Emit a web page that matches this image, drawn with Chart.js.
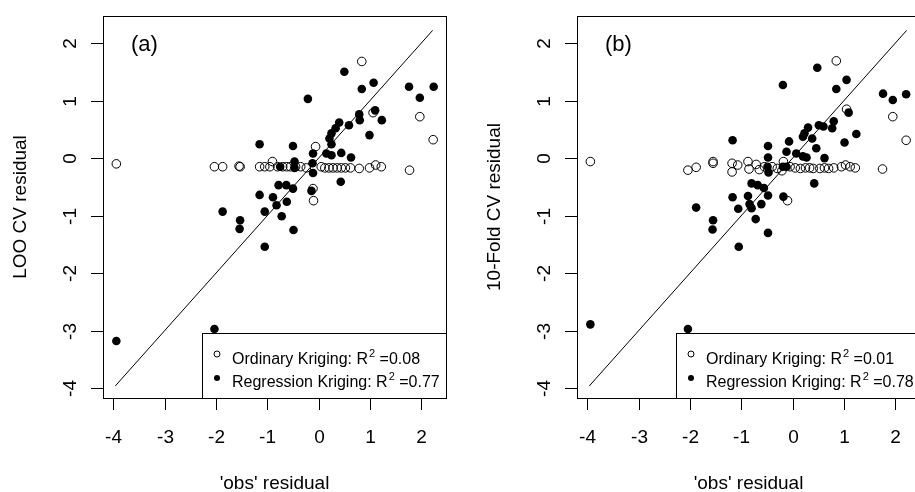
<!DOCTYPE html>
<html>
<head>
<meta charset="utf-8">
<script src="https://cdn.jsdelivr.net/npm/chart.js@4.4.0/dist/chart.umd.min.js"></script>
<style>
  html, body { margin: 0; padding: 0; background: #fff; overflow: hidden; }
  #wrap { width: 948px; height: 492px; display: flex; }
  #wrap canvas { display: block; }
</style>
</head>
<body>
<div id="wrap">
  <canvas id="chartA" width="474" height="492"></canvas>
  <canvas id="chartB" width="474" height="492"></canvas>
</div>
<script>
// tick values for both axes
var xTicks = [-4, -3, -2, -1, 0, 1, 2];
var yTicks = [-4, -3, -2, -1, 0, 1, 2];

// 1:1 line end points
var lineEnds = [-3.96, 2.22];

// panel (a) - LOO CV
var okA = [
  [-3.94,-0.10],[-2.03,-0.15],[-1.87,-0.15],[-1.53,-0.15],[-1.55,-0.14],[-1.15,-0.15],[-1.05,-0.15],
  [-0.95,-0.15],[-0.90,-0.06],[-0.80,-0.15],[-0.70,-0.15],[-0.62,-0.15],[-0.55,-0.15],[-0.45,-0.15],
  [-0.35,-0.15],[-0.24,-0.17],[-0.06,0.20],[-0.11,-0.53],[-0.10,-0.74],[0.05,-0.15],[0.12,-0.17],
  [0.20,-0.17],[0.28,-0.17],[0.36,-0.17],[0.44,-0.17],[0.52,-0.17],[0.62,-0.17],[0.79,-0.18],
  [0.99,-0.17],[1.11,-0.12],[1.22,-0.15],[1.77,-0.21],[1.06,0.79],[0.84,1.68],[1.97,0.72],[2.23,0.32]
];
var rkA = [
  [-3.94,-3.18],[-2.03,-2.97],[-1.87,-0.93],[-1.53,-1.08],[-1.54,-1.23],[-1.05,-1.54],[-1.15,0.24],
  [-1.15,-0.64],[-1.05,-0.93],[-0.89,-0.68],[-0.82,-0.82],[-0.78,-0.47],[-0.63,-0.47],[-0.50,-0.53],
  [-0.62,-0.76],[-0.72,-1.01],[-0.49,-1.25],[-0.50,0.21],[-0.47,-0.06],[-0.47,-0.17],[-0.21,1.03],
  [-0.14,-0.57],[-0.11,0.08],[-0.12,-0.09],[-0.11,-0.26],[-0.75,-0.15],[0.15,0.08],[0.25,0.05],
  [0.44,0.09],[0.63,0.01],[0.25,0.24],[0.21,0.34],[0.25,0.43],[0.33,0.52],[0.40,0.62],[0.59,0.57],
  [0.79,0.76],[0.80,0.66],[0.99,0.40],[1.10,0.83],[1.23,0.66],[0.84,1.20],[1.07,1.31],[0.50,1.50],
  [1.76,1.24],[1.97,1.05],[2.24,1.24],[0.43,-0.41]
];

// panel (b) - 10-fold CV
var okB = [
  [-3.94,-0.06],[-2.04,-0.21],[-1.88,-0.16],[-1.55,-0.06],[-1.55,-0.09],[-1.18,-0.09],[-1.18,-0.24],
  [-1.07,-0.12],[-0.87,-0.06],[-0.85,-0.19],[-0.71,-0.11],[-0.65,-0.20],[-0.55,-0.15],[-0.40,-0.15],
  [-0.30,-0.18],[-0.18,-0.06],[-0.21,-0.22],[-0.10,-0.74],[-0.05,-0.15],[0.05,-0.17],[0.15,-0.18],
  [0.25,-0.17],[0.33,-0.17],[0.40,-0.18],[0.53,-0.18],[0.62,-0.17],[0.70,-0.18],[0.80,-0.17],
  [0.95,-0.15],[1.03,-0.12],[1.12,-0.15],[1.22,-0.17],[1.75,-0.19],[1.05,0.85],[0.85,1.69],
  [1.95,0.72],[2.21,0.31]
];
var rkB = [
  [-3.94,-2.89],[-2.04,-2.97],[-1.88,-0.86],[-1.55,-1.08],[-1.56,-1.24],[-1.05,-1.54],[-1.17,0.31],
  [-1.17,-0.68],[-1.06,-0.88],[-0.87,-0.66],[-0.84,-0.80],[-0.80,-0.87],[-0.72,-1.06],[-0.61,-0.80],
  [-0.48,-1.30],[-0.48,-0.65],[-0.18,-0.67],[-0.80,-0.44],[-0.68,-0.47],[-0.56,-0.52],[-0.48,0.21],
  [-0.48,0.01],[-0.49,-0.15],[-0.47,-0.25],[-0.19,1.27],[-0.19,-0.15],[-0.12,-0.15],[-0.12,0.11],
  [-0.07,0.29],[0.07,0.08],[0.20,0.03],[0.27,0.01],[0.42,-0.44],[0.46,0.17],[0.20,0.37],[0.23,0.43],
  [0.30,0.53],[0.38,0.34],[0.51,0.57],[0.60,0.55],[0.62,0.00],[0.80,0.64],[0.77,0.52],[1.01,0.27],
  [1.24,0.42],[1.09,0.79],[0.85,1.20],[1.05,1.36],[0.48,1.57],[1.76,1.12],[1.95,1.01],[2.21,1.11]
];

var FONT = '"Liberation Sans", Arial, sans-serif';

function toPts(arr) {
  return arr.map(function(p) { return { x: p[0], y: p[1] }; });
}

// draws the R-style box, axes, labels and legend
var rStyle = {
  id: 'rStyle',
  afterDraw: function(chart, args, opts) {
    var ctx = chart.ctx;
    var a = chart.chartArea;
    var xs = chart.scales.x, ys = chart.scales.y;
    ctx.save();
    ctx.strokeStyle = '#000';
    ctx.fillStyle = '#000';
    ctx.lineWidth = 1;
    ctx.strokeRect(Math.round(a.left) + 0.5, Math.round(a.top) + 0.5, Math.round(a.right - a.left), Math.round(a.bottom - a.top));

    // x ticks
    ctx.font = '19px ' + FONT;
    ctx.textAlign = 'center';
    ctx.textBaseline = 'alphabetic';
    xTicks.forEach(function(v) {
      var px = Math.round(xs.getPixelForValue(v)) + 0.5;
      ctx.beginPath();
      ctx.moveTo(px, a.bottom);
      ctx.lineTo(px, a.bottom + 12);
      ctx.stroke();
      ctx.fillText(String(v), px, a.bottom + 45);
    });
    // y ticks (labels parallel to axis)
    yTicks.forEach(function(v) {
      var py = Math.round(ys.getPixelForValue(v)) + 0.5;
      ctx.beginPath();
      ctx.moveTo(a.left - 12, py);
      ctx.lineTo(a.left, py);
      ctx.stroke();
      ctx.save();
      ctx.translate(a.left - 27, py);
      ctx.rotate(-Math.PI / 2);
      ctx.fillText(String(v), 0, 0);
      ctx.restore();
    });

    // axis titles
    ctx.fillText(opts.xTitle, (a.left + a.right) / 2, a.bottom + 91);
    ctx.save();
    ctx.translate(26, (a.top + a.bottom) / 2);
    ctx.rotate(-Math.PI / 2);
    ctx.fillText(opts.yTitle, 0, 0);
    ctx.restore();

    // panel label
    ctx.font = '22px ' + FONT;
    ctx.textAlign = 'left';
    ctx.fillText(opts.panel, 131, 51);

    // legend
    var lx = 202, ly = 333;
    ctx.fillStyle = '#fff';
    ctx.fillRect(lx + 0.5, ly + 0.5, a.right - lx, a.bottom - ly);
    ctx.strokeStyle = '#000';
    ctx.strokeRect(lx + 0.5, ly + 0.5, Math.round(a.right - lx), Math.round(a.bottom - ly));
    ctx.fillStyle = '#000';
    var rows = [
      { name: 'Ordinary Kriging: R', r2: opts.okR2, open: true, y: 364, sy: 354 },
      { name: 'Regression Kriging: R', r2: opts.rkR2, open: false, y: 387, sy: 378 }
    ];
    rows.forEach(function(r) {
      ctx.beginPath();
      ctx.arc(217, r.sy, 3, 0, Math.PI * 2);
      if (r.open) { ctx.lineWidth = 1; ctx.stroke(); } else { ctx.fill(); }
      ctx.font = '16px ' + FONT;
      var x = 232;
      ctx.fillText(r.name, x, r.y);
      x += ctx.measureText(r.name).width + 1;
      ctx.font = '11px ' + FONT;
      ctx.fillText('2', x, r.y - 7);
      x += ctx.measureText('2').width;
      ctx.font = '16px ' + FONT;
      ctx.fillText(' =' + r2Text(r.r2), x, r.y);
    });
    ctx.restore();
  }
};

function r2Text(v) { return v.toFixed(2); }

function makeChart(id, ok, rk, opts) {
  return new Chart(document.getElementById(id), {
    type: 'scatter',
    data: {
      datasets: [
        {
          label: 'Regression Kriging',
          data: toPts(rk),
          order: 1,
          pointStyle: 'circle',
          pointRadius: 4.3,
          backgroundColor: '#000',
          borderColor: '#000',
          borderWidth: 0
        },
        {
          label: 'Ordinary Kriging',
          data: toPts(ok),
          order: 2,
          pointStyle: 'circle',
          pointRadius: 4.3,
          backgroundColor: 'rgba(0,0,0,0)',
          borderColor: '#000',
          borderWidth: 1
        },
        {
          type: 'line',
          label: '1:1',
          data: [{ x: lineEnds[0], y: lineEnds[0] }, { x: lineEnds[1], y: lineEnds[1] }],
          order: 3,
          showLine: true,
          pointRadius: 0,
          borderColor: '#000',
          borderWidth: 1,
          fill: false
        }
      ]
    },
    options: {
      responsive: false,
      animation: false,
      layout: { padding: { left: 103, right: 28, top: 16, bottom: 94 } },
      plugins: {
        legend: { display: false },
        tooltip: { enabled: false },
        rStyle: opts
      },
      scales: {
        x: { type: 'linear', min: -4.2, max: 2.48, display: false },
        y: { type: 'linear', min: -4.17, max: 2.47, display: false }
      }
    },
    plugins: [rStyle]
  });
}

makeChart('chartA', okA, rkA, { panel: '(a)', xTitle: "'obs' residual", yTitle: 'LOO CV residual', okR2: 0.08, rkR2: 0.77 });
makeChart('chartB', okB, rkB, { panel: '(b)', xTitle: "'obs' residual", yTitle: '10-Fold CV residual', okR2: 0.01, rkR2: 0.78 });
</script>
</body>
</html>
